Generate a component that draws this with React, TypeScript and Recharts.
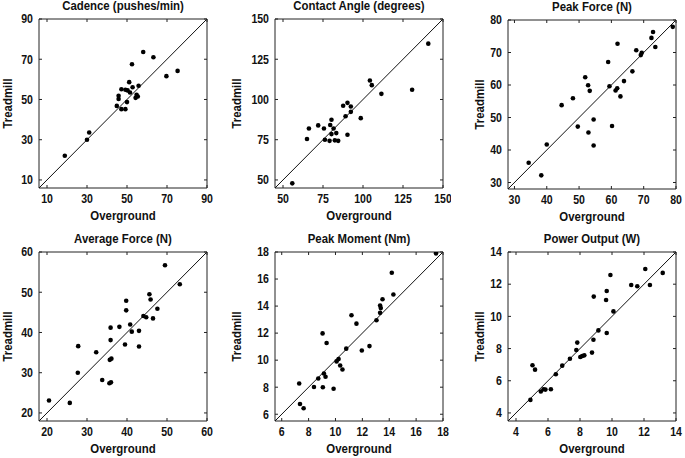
import React from 'react';
import { ScatterChart, Scatter, XAxis, YAxis, ReferenceLine, ReferenceArea, Label } from 'recharts';

const FONT = "'Liberation Sans', Arial, Helvetica, sans-serif";

// ---- Data (Overground vs Treadmill) ----
const cadenceOverground = [18.9, 30.0, 31.1, 44.9, 45.8, 45.8, 47.2, 47.2, 49.2, 49.2, 50.0, 50.3, 51.1, 51.5, 52.5, 52.8, 54.3, 54.8, 55.4, 55.8, 58.1, 63.2, 69.7, 75.3];
const cadenceTreadmill = [22.0, 30.0, 33.6, 46.8, 51.8, 50.2, 55.1, 45.2, 45.2, 54.8, 48.7, 54.5, 58.6, 53.5, 67.5, 56.1, 50.8, 52.3, 51.5, 56.8, 73.6, 71.0, 61.6, 64.2];
const cadenceTicks = [10, 30, 50, 70, 90];
const cadenceDomain = [6, 90];

const angleOverground = [55.8, 65, 66.2, 72, 75.6, 76.2, 79.1, 79.5, 80.3, 80.3, 81.6, 82.4, 83.3, 84.5, 87.6, 89.1, 90.3, 90.3, 92.4, 92.4, 98.6, 104.3, 105.5, 111.5, 130.7, 140.8];
const angleTreadmill = [47.9, 75.4, 82, 83.9, 82, 75, 74.3, 84.1, 87.4, 78.5, 82, 74.6, 79.1, 74.3, 96.1, 89.6, 97.9, 78.1, 95.6, 92.3, 88.4, 111.8, 108.9, 103.5, 106, 134.7];
const angleTicks = [50, 75, 100, 125, 150];
const angleDomain = [45, 150];

const peakForceOverground = [34.4, 38.3, 40.0, 44.6, 48.1, 49.6, 51.9, 52.8, 52.9, 53.3, 54.5, 54.5, 59.0, 59.4, 60.2, 61.3, 61.8, 61.9, 62.8, 63.9, 66.5, 67.7, 69.1, 69.4, 72.4, 72.9, 73.6, 79.0];
const peakForceTreadmill = [36.1, 32.2, 41.7, 53.8, 55.9, 47.2, 62.4, 59.9, 45.4, 58.2, 49.4, 41.4, 67.1, 59.6, 47.4, 58.3, 59.0, 72.7, 56.5, 61.2, 64.2, 70.7, 69.2, 69.9, 74.5, 76.3, 71.7, 77.9];
const peakForceTicks = [30, 40, 50, 60, 70, 80];
const peakForceDomain = [28, 80];

const avgForceOverground = [20.5, 25.7, 27.7, 27.8, 32.3, 33.8, 35.6, 36.0, 35.7, 36.1, 35.9, 35.9, 38.1, 39.5, 39.8, 39.8, 40.8, 41.2, 43.0, 43.0, 44.1, 44.8, 45.6, 45.9, 46.5, 47.6, 49.5, 53.2];
const avgForceTreadmill = [23.1, 22.5, 30.0, 36.6, 35.1, 28.2, 27.4, 27.6, 33.2, 33.5, 38.1, 41.2, 41.4, 37.0, 45.5, 47.9, 42.0, 40.2, 40.4, 36.5, 44.1, 43.8, 49.5, 48.2, 43.5, 45.9, 56.7, 52.0];
const avgForceTicks = [20, 30, 40, 50, 60];
const avgForceDomain = [18, 60];

const momentOverground = [7.3, 7.36, 7.63, 8.4, 8.72, 9.04, 9.06, 9.14, 9.26, 9.34, 9.86, 10.08, 10.23, 10.35, 10.52, 10.8, 11.19, 11.56, 11.96, 12.53, 13.05, 13.32, 13.32, 13.37, 13.5, 14.19, 14.31, 17.48];
const momentTreadmill = [8.27, 6.76, 6.44, 8.02, 8.64, 11.98, 8.0, 9.01, 8.77, 11.27, 7.88, 9.91, 10.08, 9.61, 9.31, 10.85, 13.32, 12.7, 10.72, 11.04, 12.95, 13.5, 14.04, 13.85, 14.51, 16.47, 14.86, 17.9];
const momentTicks = [6, 8, 10, 12, 14, 16, 18];
const momentDomain = [5.5, 18];

const powerOverground = [4.9, 5.03, 5.19, 5.55, 5.72, 5.84, 6.18, 6.49, 6.89, 7.37, 7.77, 7.83, 8.02, 8.14, 8.27, 8.75, 8.84, 8.86, 9.15, 9.63, 9.67, 9.67, 9.9, 10.09, 11.2, 11.58, 12.08, 12.37, 13.17];
const powerTreadmill = [4.81, 6.96, 6.69, 5.33, 5.47, 5.45, 5.47, 6.4, 6.94, 7.37, 7.91, 8.37, 7.48, 7.54, 7.58, 7.75, 8.55, 11.23, 9.13, 11.02, 11.58, 8.97, 12.57, 10.31, 11.95, 11.87, 12.94, 11.95, 12.7];
const powerTicks = [4, 6, 8, 10, 12, 14];
const powerDomain = [3.5, 14];

const titles = ['Cadence (pushes/min)', 'Contact Angle (degrees)', 'Peak Force (N)', 'Average Force (N)', 'Peak Moment (Nm)', 'Power Output (W)'];

// ---- Layout (styling only) ----
const PLOT_W = 168;
const PLOT_H = 169;
const Y_AXIS_W = 46;
const X_AXIS_H = 40;
const M_TOP = 8;
const M_RIGHT = 8;
const layout = [
  { bx: 38.5, by: 19, yLabelOff: 32 },
  { bx: 275, by: 19, yLabelOff: 38.5 },
  { bx: 508, by: 19.5, yLabelOff: 29 },
  { bx: 39, by: 251.5, yLabelOff: 32 },
  { bx: 275, by: 252, yLabelOff: 38.5 },
  { bx: 508, by: 251.5, yLabelOff: 29 },
];

const panels = [
  { over: cadenceOverground, tread: cadenceTreadmill, ticks: cadenceTicks, domain: cadenceDomain },
  { over: angleOverground, tread: angleTreadmill, ticks: angleTicks, domain: angleDomain },
  { over: peakForceOverground, tread: peakForceTreadmill, ticks: peakForceTicks, domain: peakForceDomain },
  { over: avgForceOverground, tread: avgForceTreadmill, ticks: avgForceTicks, domain: avgForceDomain },
  { over: momentOverground, tread: momentTreadmill, ticks: momentTicks, domain: momentDomain },
  { over: powerOverground, tread: powerTreadmill, ticks: powerTicks, domain: powerDomain },
];

const SX = 0.88;
const INK = '#111';
const FRAME = '#222';

const XTick = (props: any) => {
  const { x, y, payload } = props;
  return (
    <g>
      <line x1={x} y1={y} x2={x} y2={y - 3} stroke={FRAME} strokeWidth={1} />
      <line x1={x} y1={y - PLOT_H} x2={x} y2={y - PLOT_H + 3} stroke={FRAME} strokeWidth={1} />
      <text
        transform={`translate(${x},${y + 14.8}) scale(${SX},1)`}
        textAnchor="middle"
        fontFamily={FONT}
        fontWeight="bold"
        fontSize={12}
        fill={INK}
      >
        {payload.value}
      </text>
    </g>
  );
};

const YTick = (props: any) => {
  const { x, y, payload } = props;
  return (
    <g>
      <line x1={x} y1={y} x2={x + 3} y2={y} stroke={FRAME} strokeWidth={1} />
      <line x1={x + PLOT_W} y1={y} x2={x + PLOT_W - 3} y2={y} stroke={FRAME} strokeWidth={1} />
      <text
        transform={`translate(${x - 6},${y + 4.3}) scale(${SX},1)`}
        textAnchor="end"
        fontFamily={FONT}
        fontWeight="bold"
        fontSize={12}
        fill={INK}
      >
        {payload.value}
      </text>
    </g>
  );
};

const Dot = (p: any) => <circle cx={p.cx} cy={p.cy} r={2.3} fill="#000" />;

const Panel = ({ idx }: { idx: number }) => {
  const pnl = panels[idx];
  const lay = layout[idx];
  const [lo, hi] = pnl.domain;
  const data = pnl.over.map((x, i) => ({ x, y: pnl.tread[i] }));
  const w = Y_AXIS_W + PLOT_W + M_RIGHT;
  const h = M_TOP + PLOT_H + X_AXIS_H;
  return (
    <>
      <div
        style={{
          position: 'absolute',
          left: lay.bx - 30,
          width: PLOT_W + 60,
          top: lay.by - 20,
          height: 14,
          lineHeight: '14px',
          textAlign: 'center',
          fontFamily: FONT,
          fontWeight: 'bold',
          fontSize: 12,
          color: INK,
          whiteSpace: 'nowrap',
          transform: 'scaleX(0.95)',
        }}
      >
        {titles[idx]}
      </div>
      <div style={{ position: 'absolute', left: lay.bx - Y_AXIS_W, top: lay.by - M_TOP }}>
        <ScatterChart width={w} height={h} margin={{ top: M_TOP, right: M_RIGHT, bottom: 0, left: 0 }}>
          <XAxis
            type="number"
            dataKey="x"
            domain={[lo, hi]}
            ticks={pnl.ticks}
            interval={0}
            allowDataOverflow
            height={X_AXIS_H}
            tickSize={0}
            tickMargin={0}
            tickLine={false}
            axisLine={false}
            tick={(p: any) => <XTick {...p} />}
          >
            <Label
              content={(lp: any) => {
                const vb = lp.viewBox || {};
                return (
                  <text
                    transform={`translate(${vb.x + vb.width / 2},${vb.y + 31.5}) scale(${SX},1)`}
                    textAnchor="middle"
                    fontFamily={FONT}
                    fontWeight="bold"
                    fontSize={13}
                    fill={INK}
                  >
                    Overground
                  </text>
                );
              }}
            />
          </XAxis>
          <YAxis
            type="number"
            dataKey="y"
            domain={[lo, hi]}
            ticks={pnl.ticks}
            interval={0}
            allowDataOverflow
            width={Y_AXIS_W}
            tickSize={0}
            tickMargin={0}
            tickLine={false}
            axisLine={false}
            tick={(p: any) => <YTick {...p} />}
          >
            <Label
              content={(lp: any) => {
                const vb = lp.viewBox || {};
                const cx = vb.x + vb.width - lay.yLabelOff;
                const cy = vb.y + vb.height / 2;
                return (
                  <text
                    transform={`translate(${cx},${cy}) rotate(-90) scale(${SX},1)`}
                    x={0}
                    y={4.6}
                    textAnchor="middle"
                    fontFamily={FONT}
                    fontWeight="bold"
                    fontSize={13}
                    fill={INK}
                  >
                    Treadmill
                  </text>
                );
              }}
            />
          </YAxis>
          <ReferenceArea x1={lo} x2={hi} y1={lo} y2={hi} fill="none" fillOpacity={0} stroke={FRAME} strokeWidth={1} ifOverflow="visible" />
          <ReferenceLine segment={[{ x: lo, y: lo }, { x: hi, y: hi }]} stroke={INK} strokeWidth={1} ifOverflow="visible" />
          <Scatter data={data} fill="#000" shape={Dot} isAnimationActive={false} />
        </ScatterChart>
      </div>
    </>
  );
};

export default function App() {
  return (
    <div style={{ position: 'absolute', left: 0, top: 0, width: 685, height: 458, background: '#fff', overflow: 'hidden' }}>
      {panels.map((_, i) => (
        <Panel key={i} idx={i} />
      ))}
    </div>
  );
}
